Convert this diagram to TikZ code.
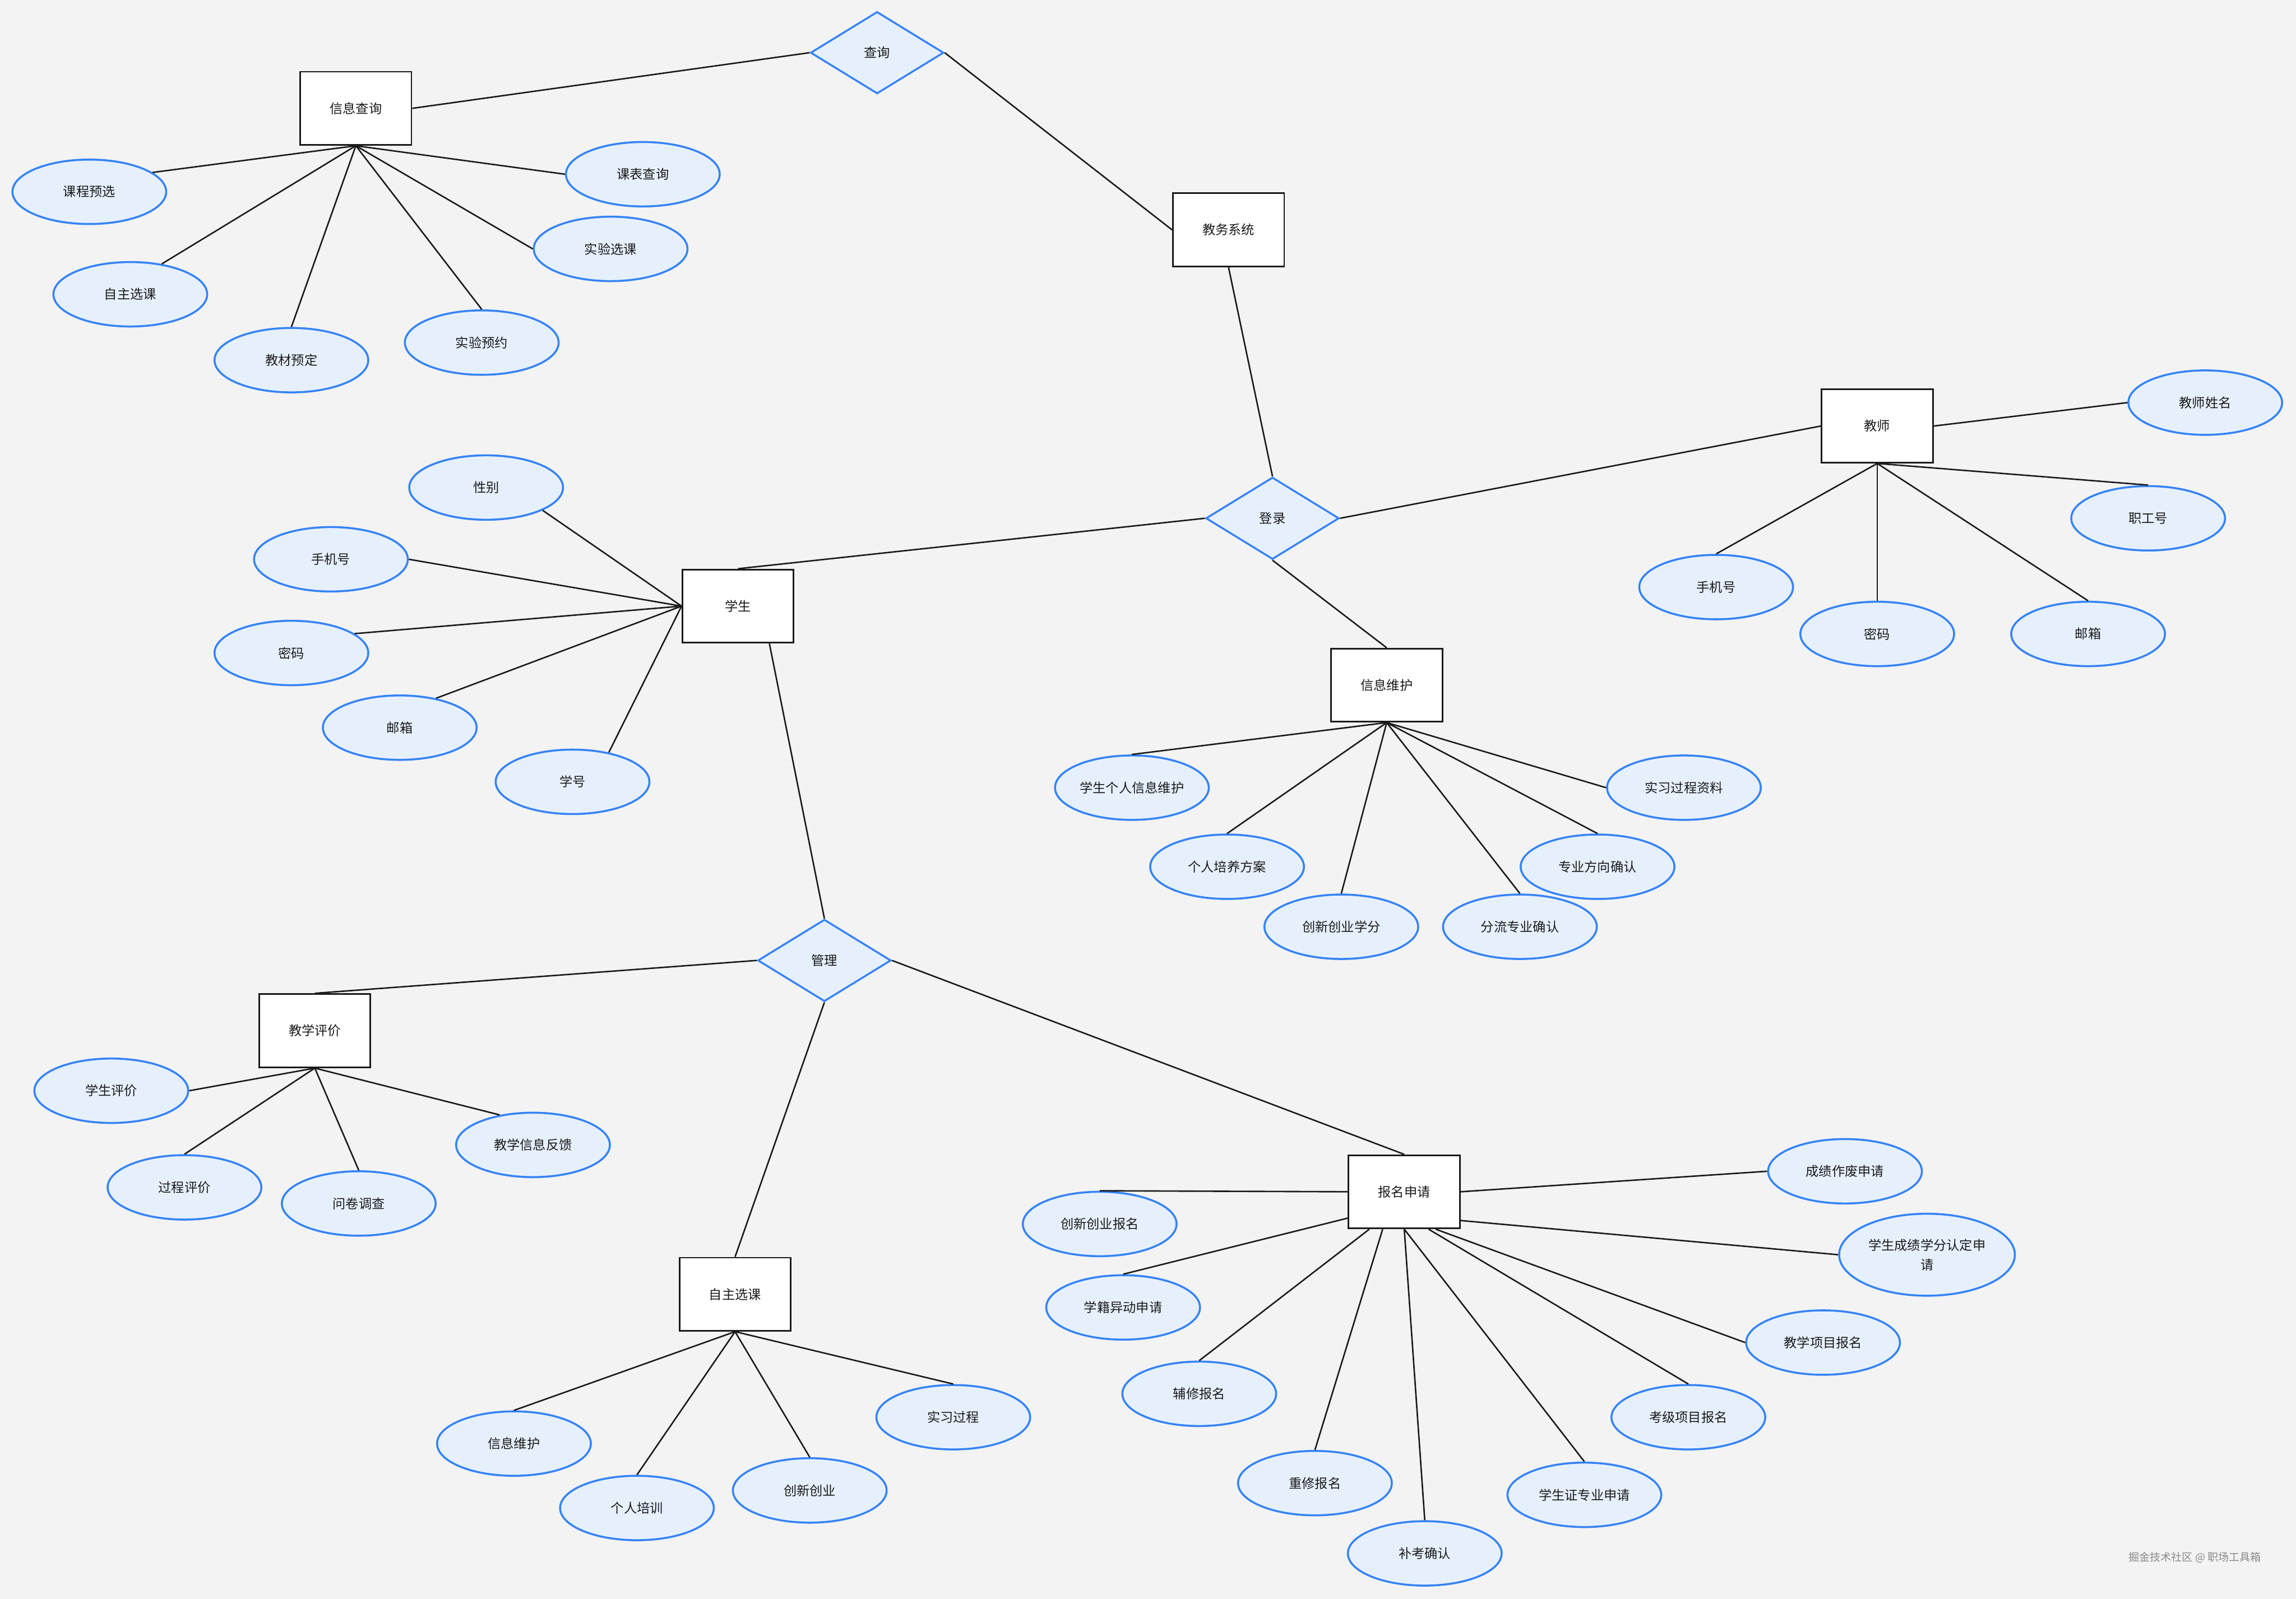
\documentclass[tikz,border=0pt]{standalone}
\usepackage{fontspec}
\setmainfont{Noto Sans CJK SC}
\usepackage{tikz}
\usetikzlibrary{shapes.geometric}
\usepackage{xcolor}
\definecolor{bgcol}{HTML}{F3F3F3}
\definecolor{attrblue}{HTML}{3583F5}
\definecolor{attrfill}{HTML}{E6F0FD}
\definecolor{linecol}{HTML}{1A1A1A}
\definecolor{wmgray}{HTML}{8A8A8A}

\begin{document}
\begin{tikzpicture}[
  x=1pt, y=-1pt,
  font=\fontsize{8.9}{13.5}\selectfont, text=linecol,
  entity/.style={draw=linecol, line width=1.1pt, fill=white, minimum width=76pt,
                 minimum height=50pt, inner sep=0pt},
  rel/.style={diamond, draw=attrblue, line width=1.3pt, fill=attrfill,
              minimum width=91pt, minimum height=56pt, inner sep=0pt},
  attr/.style={ellipse, draw=attrblue, line width=1.35pt, fill=attrfill,
               minimum width=105pt, minimum height=44pt, inner sep=0pt, align=center},
  link/.style={draw=linecol, line width=1pt}
]

\fill[bgcol] (0,0) rectangle (1568,1092);

%% Entities and relationships
\node[entity] (iq)      at (243,74)  {信息查询};
\node[rel]    (query)   at (599,36)  {查询};
\node[entity] (eas)     at (839,157) {教务系统};
\node[rel]    (login)   at (869,354) {登录};
\node[entity] (teacher) at (1282,291) {教师};
\node[entity] (student) at (504,414) {学生};
\node[entity] (im)      at (947,468) {信息维护};
\node[rel]    (manage)  at (563,656) {管理};
\node[entity] (eval)    at (215,704) {教学评价};
\node[entity] (apply)   at (959,814) {报名申请};
\node[entity] (selfsel) at (502,884) {自主选课};

\draw[link] (iq.east) -- (query.west);
\draw[link] (query.east) -- (eas.west);
\draw[link] (eas.south) -- (login.north);
\draw[link] (login.west) -- (student.north);
\draw[link] (login.east) -- (teacher.west);
\draw[link] (login.south) -- (im.north);
\draw[link] (student.-50) -- (manage.north);
\draw[link] (manage.west) -- (eval.north);
\draw[link] (manage.south) -- (selfsel.north);
\draw[link] (manage.east) -- (apply.north);

%% 信息查询 attributes
\node[attr] (iq_pre)  at (61,131)  {课程预选};
\node[attr] (iq_tab)  at (439,119) {课表查询};
\node[attr] (iq_lab)  at (417,170) {实验选课};
\node[attr] (iq_self) at (89,201)  {自主选课};
\node[attr] (iq_res)  at (329,234) {实验预约};
\node[attr] (iq_book) at (199,246) {教材预定};
\draw[link] (iq.south) -- (iq_pre.17);
\draw[link] (iq.south) -- (iq_tab.west);
\draw[link] (iq.south) -- (iq_lab.west);
\draw[link] (iq.south) -- (iq_self.44);
\draw[link] (iq.south) -- (iq_res.north);
\draw[link] (iq.south) -- (iq_book.north);

%% 学生 attributes
\node[attr] (s_sex)   at (332,333) {性别};
\node[attr] (s_phone) at (226,382) {手机号};
\node[attr] (s_pwd)   at (199,446) {密码};
\node[attr] (s_mail)  at (273,497) {邮箱};
\node[attr] (s_id)    at (391,534) {学号};
\draw[link] (student.west) -- (s_sex.-22);
\draw[link] (student.west) -- (s_phone.east);
\draw[link] (student.west) -- (s_pwd.17);
\draw[link] (student.west) -- (s_mail.39);
\draw[link] (student.west) -- (s_id.39);

%% 教师 attributes
\node[attr] (t_name)  at (1506,275) {教师姓名};
\node[attr] (t_no)    at (1467,354) {职工号};
\node[attr] (t_phone) at (1172,401) {手机号};
\node[attr] (t_pwd)   at (1282,433) {密码};
\node[attr] (t_mail)  at (1426,433) {邮箱};
\draw[link] (teacher.east) -- (t_name.west);
\draw[link] (teacher.south) -- (t_no.north);
\draw[link] (teacher.south) -- (t_phone.north);
\draw[link] (teacher.south) -- (t_pwd.north);
\draw[link] (teacher.south) -- (t_mail.north);

%% 信息维护 attributes
\node[attr] (im_stu)    at (773,538)  {学生个人信息维护};
\node[attr] (im_plan)   at (838,592)  {个人培养方案};
\node[attr] (im_credit) at (916,633)  {创新创业学分};
\node[attr] (im_split)  at (1038,633) {分流专业确认};
\node[attr] (im_major)  at (1091,592) {专业方向确认};
\node[attr] (im_intern) at (1150,538) {实习过程资料};
\draw[link] (im.south) -- (im_stu.north);
\draw[link] (im.south) -- (im_plan.north);
\draw[link] (im.south) -- (im_credit.north);
\draw[link] (im.south) -- (im_split.north);
\draw[link] (im.south) -- (im_major.north);
\draw[link] (im.south) -- (im_intern.west);

%% 教学评价 attributes
\node[attr] (e_stu)   at (76,745)  {学生评价};
\node[attr] (e_proc)  at (126,811) {过程评价};
\node[attr] (e_quest) at (245,822) {问卷调查};
\node[attr] (e_feed)  at (364,782) {教学信息反馈};
\draw[link] (eval.south) -- (e_stu.east);
\draw[link] (eval.south) -- (e_proc.north);
\draw[link] (eval.south) -- (e_quest.north);
\draw[link] (eval.south) -- (e_feed.138);

%% 自主选课 attributes
\node[attr] (ss_info)   at (351,986)  {信息维护};
\node[attr] (ss_train)  at (435,1030) {个人培训};
\node[attr] (ss_innov)  at (553,1018) {创新创业};
\node[attr] (ss_intern) at (651,968)  {实习过程};
\draw[link] (selfsel.south) -- (ss_info.north);
\draw[link] (selfsel.south) -- (ss_train.north);
\draw[link] (selfsel.south) -- (ss_innov.north);
\draw[link] (selfsel.south) -- (ss_intern.north);

%% 报名申请 attributes
\node[attr] (a_innov)  at (751,836)  {创新创业报名};
\node[attr] (a_status) at (767,893)  {学籍异动申请};
\node[attr] (a_minor)  at (819,952)  {辅修报名};
\node[attr] (a_retake) at (898,1013) {重修报名};
\node[attr] (a_makeup) at (973,1061) {补考确认};
\node[attr] (a_card)   at (1082,1021) {学生证专业申请};
\node[attr] (a_grade)  at (1153,968) {考级项目报名};
\node[attr] (a_proj)   at (1245,917) {教学项目报名};
\node[attr, minimum width=120pt, minimum height=56pt] (a_credit) at (1316,857) {学生成绩学分认定申\\请};
\node[attr] (a_void)   at (1260,800) {成绩作废申请};
\draw[link] (apply.west) -- (a_innov.north);
\draw[link] (apply.205) -- (a_status.north);
\draw[link] (apply.227) -- (a_minor.north);
\draw[link] (apply.240) -- (a_retake.north);
\draw[link] (apply.south) -- (a_makeup.north);
\draw[link] (apply.south) -- (a_card.north);
\draw[link] (apply.303) -- (a_grade.north);
\draw[link] (apply.310) -- (a_proj.west);
\draw[link] (apply.333) -- (a_credit.west);
\draw[link] (apply.east) -- (a_void.west);

%% watermark
\node[font=\fontsize{7.3}{9}\selectfont, text=wmgray] (wm) at (1499,1064) {掘金技术社区 @ 职场工具箱};

\end{tikzpicture}
\end{document}
